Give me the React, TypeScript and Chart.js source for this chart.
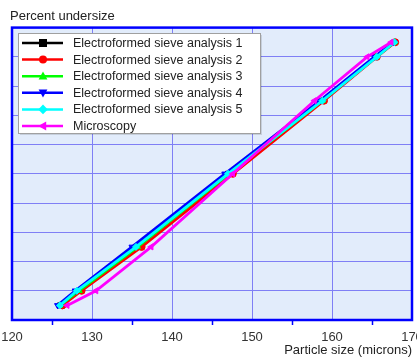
import React, { useEffect, useRef } from "react";
import { Chart, registerables } from "chart.js";

Chart.register(...registerables);

const percentUndersize = [5, 10, 25, 50, 75, 90, 95];
const sieve1 = [126.0, 128.3, 135.5, 147.0, 158.8, 165.5, 167.8];
const sieve2 = [126.3, 128.7, 136.2, 147.6, 159.0, 165.6, 167.9];
const sieve3 = [126.0, 128.4, 135.7, 147.1, 158.8, 165.5, 167.8];
const sieve4 = [125.7, 127.9, 135.0, 146.6, 158.5, 165.3, 167.7];
const sieve5 = [126.0, 128.1, 135.5, 147.0, 158.8, 165.6, 167.8];
const microscopy = [126.9, 130.5, 137.4, 147.6, 157.8, 164.4, 167.4];

const seriesNames = [
  "Electroformed sieve analysis 1",
  "Electroformed sieve analysis 2",
  "Electroformed sieve analysis 3",
  "Electroformed sieve analysis 4",
  "Electroformed sieve analysis 5",
  "Microscopy",
];
const seriesValues = [sieve1, sieve2, sieve3, sieve4, sieve5, microscopy];
const seriesColors = ["#000000", "#ff0000", "#00ff00", "#0000ff", "#00ffff", "#ff00ff"];
const seriesMarkers = ["rect", "circle", "triangle", "triangle", "rectRot", "triangle"];
const seriesRotation = [0, 0, 0, 180, 0, -90];

function drawMarker(ctx: CanvasRenderingContext2D, style: string, rot: number, x: number, y: number, r: number) {
  ctx.save();
  ctx.translate(x, y);
  ctx.rotate((rot * Math.PI) / 180);
  ctx.beginPath();
  if (style === "rect") {
    ctx.rect(-r, -r, 2 * r, 2 * r);
  } else if (style === "circle") {
    ctx.arc(0, 0, r, 0, Math.PI * 2);
  } else if (style === "triangle") {
    ctx.moveTo(0, -r * 1.2);
    ctx.lineTo(r * 1.1, r * 0.8);
    ctx.lineTo(-r * 1.1, r * 0.8);
    ctx.closePath();
  } else if (style === "rectRot") {
    ctx.moveTo(0, -r * 1.2);
    ctx.lineTo(r * 1.2, 0);
    ctx.lineTo(0, r * 1.2);
    ctx.lineTo(-r * 1.2, 0);
    ctx.closePath();
  }
  ctx.fill();
  ctx.restore();
}

const plotDecor = {
  id: "plotDecor",
  beforeDraw(chart: any) {
    const { ctx, chartArea: a } = chart;
    ctx.save();
    ctx.fillStyle = "#e2ecfb";
    ctx.fillRect(a.left, a.top, a.right - a.left, a.bottom - a.top);
    ctx.restore();
  },
  beforeDatasetsDraw(chart: any) {
    const { ctx, chartArea: a } = chart;
    ctx.save();
    ctx.strokeStyle = "#0000ff";
    ctx.lineWidth = 2.5;
    ctx.strokeRect(a.left, a.top, a.right - a.left, a.bottom - a.top);
    ctx.restore();
  },
  afterDraw(chart: any) {
    const ctx: CanvasRenderingContext2D = chart.ctx;
    const bx = 18, by = 33, bw = 242, bh = 100;
    ctx.save();
    ctx.fillStyle = "rgba(0,0,0,0.12)";
    ctx.fillRect(bx + 2, by + 2, bw, bh);
    ctx.fillStyle = "#ffffff";
    ctx.fillRect(bx, by, bw, bh);
    ctx.strokeStyle = "#a0a0a0";
    ctx.lineWidth = 1;
    ctx.strokeRect(bx + 0.5, by + 0.5, bw, bh);
    seriesNames.forEach((name, i) => {
      const y = 43 + i * 16.6;
      ctx.strokeStyle = seriesColors[i];
      ctx.fillStyle = seriesColors[i];
      ctx.lineWidth = 2.5;
      ctx.beginPath();
      ctx.moveTo(22, y);
      ctx.lineTo(63, y);
      ctx.stroke();
      drawMarker(ctx, seriesMarkers[i], seriesRotation[i], 43, y, 4);
      ctx.fillStyle = "#222222";
      ctx.font = "12.5px Arial, 'Liberation Sans', sans-serif";
      ctx.textBaseline = "middle";
      ctx.textAlign = "left";
      ctx.fillText(name, 73, y + 0.5);
    });
    ctx.restore();
  },
};

export default function App() {
  const ref = useRef<HTMLCanvasElement | null>(null);
  useEffect(() => {
    if (!ref.current) return;
    const datasets = seriesNames.map((name, i) => ({
      label: name,
      data: seriesValues[i].map((x, j) => ({ x, y: percentUndersize[j] })),
      borderColor: seriesColors[i],
      backgroundColor: seriesColors[i],
      borderWidth: 2.8,
      pointStyle: seriesMarkers[i] as any,
      rotation: seriesRotation[i],
      pointRadius: 3.5,
      pointBorderWidth: 1,
      showLine: true,
      order: 5 - i,
    }));
    const font = "Arial, 'Liberation Sans', sans-serif";
    const chart = new Chart(ref.current, {
      type: "scatter",
      data: { datasets },
      plugins: [plotDecor],
      options: {
        responsive: false,
        animation: false,
        layout: { padding: { left: 10, right: 5, top: 0, bottom: 0 } },
        plugins: {
          legend: { display: false },
          tooltip: { enabled: false },
          title: {
            display: true,
            text: "Percent undersize",
            align: "start",
            color: "#222222",
            font: { family: font, size: 13, weight: "normal" as any },
            padding: { top: 9, bottom: 3 },
          },
        },
        scales: {
          x: {
            type: "linear",
            min: 120,
            max: 170,
            border: { display: false },
            grid: {
              color: (c: any) => {
                const v = c.tick ? c.tick.value : 0;
                return v % 10 === 0 && v !== 120 && v !== 170 ? "#7f7ff5" : "rgba(0,0,0,0)";
              },
              tickColor: (c: any) => {
                const v = c.tick ? c.tick.value : 0;
                return v % 10 !== 0 ? "#0000ff" : "rgba(0,0,0,0)";
              },
              tickLength: 5,
              tickWidth: 1.5,
              lineWidth: 1,
            },
            ticks: {
              stepSize: 5,
              autoSkip: false,
              maxRotation: 0,
              padding: 5,
              color: "#333333",
              font: { family: font, size: 13 },
              callback: (v: any) => (Number(v) % 10 === 0 ? String(v) : ""),
            },
            title: {
              display: true,
              text: "Particle size (microns)",
              align: "end",
              color: "#222222",
              font: { family: font, size: 13 },
              padding: { top: 0, bottom: 0 },
            },
            afterFit: (s: any) => {
              s.height = 38;
              s.paddingLeft = 0;
              s.paddingRight = 0;
            },
          },
          y: {
            type: "linear",
            min: 0,
            max: 100,
            border: { display: false },
            grid: {
              color: (c: any) => {
                const v = c.tick ? c.tick.value : 0;
                return v === 0 || v === 100 ? "rgba(0,0,0,0)" : "#7f7ff5";
              },
              drawTicks: false,
              lineWidth: 1,
            },
            ticks: { display: false, stepSize: 10 },
            afterFit: (s: any) => {
              s.width = 2;
              s.paddingTop = 0;
              s.paddingBottom = 0;
            },
          },
        },
      },
    });
    return () => chart.destroy();
  }, []);
  return (
    <div style={{ position: "fixed", left: 0, top: 0, width: 417, height: 358, background: "#ffffff" }}>
      <canvas ref={ref} width={417} height={358} style={{ display: "block" }} />
    </div>
  );
}
